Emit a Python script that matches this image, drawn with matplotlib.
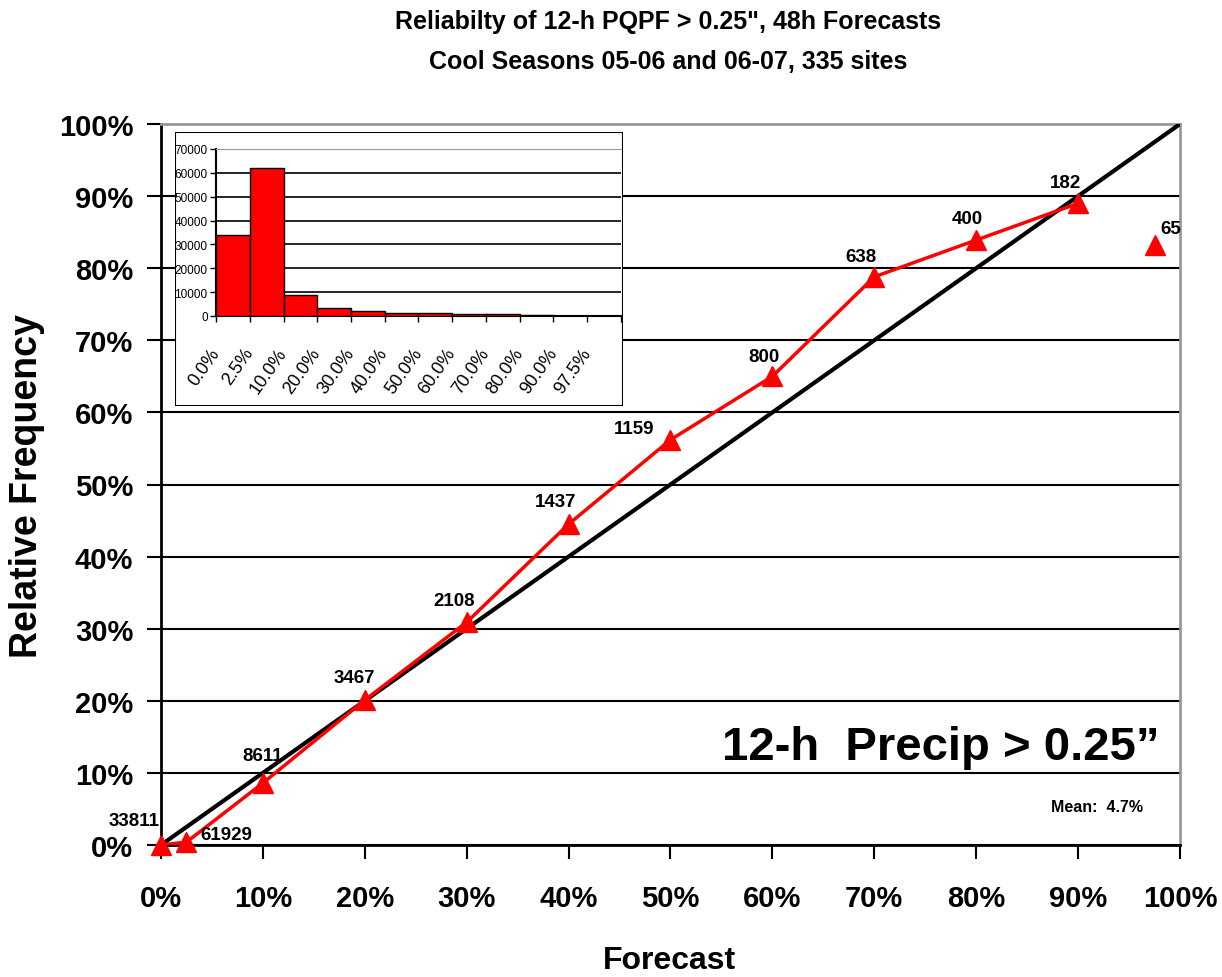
import matplotlib
matplotlib.use("Agg")
import matplotlib.pyplot as plt
from matplotlib.patches import Rectangle
from matplotlib.ticker import FuncFormatter

plt.rcParams['font.family'] = ['Liberation Sans Narrow', 'Liberation Sans', 'DejaVu Sans']

# forecast probability bins (%) and observed relative frequency (%)
forecast = [0, 2.5, 10, 20, 30, 40, 50, 60, 70, 80, 90, 97.5]
observed = [0.0, 0.4, 8.6, 20.1, 30.9, 44.5, 56.2, 65.0, 78.8, 83.9, 89.0, 83.2]
counts = [33811, 61929, 8611, 3467, 2108, 1437, 1159, 800, 638, 400, 182, 65]
hist_labels = ['0.0%', '2.5%', '10.0%', '20.0%', '30.0%', '40.0%', '50.0%',
               '60.0%', '70.0%', '80.0%', '90.0%', '97.5%']

# label offsets in pixels (dx, dy) for the sample counts
offsets = [(-27, 24), (40, 8), (0, 27), (-10, 23), (-13, 22), (-13, 23), (-36, 11),
           (-8, 20), (-13, 20), (-9, 22), (-13, 21), (16, 17)]

fig = plt.figure(figsize=(12.22, 9.78), dpi=100)
ax = fig.add_axes([161/1222, 1-846/978, (1180-161)/1222, (846-125)/978])

ax.set_xlim(0, 100)
ax.set_ylim(0, 100)
ax.set_xticks(range(0, 101, 10))
ax.set_yticks(range(0, 101, 10))
pct = FuncFormatter(lambda v, p: '%d%%' % v)
ax.xaxis.set_major_formatter(pct)
ax.yaxis.set_major_formatter(pct)
ax.tick_params(axis='both', direction='out', length=10, width=1.5, labelsize=21)
ax.tick_params(axis='x', pad=18)
ax.tick_params(axis='y', pad=10)
for lab in ax.get_xticklabels() + ax.get_yticklabels():
    lab.set_fontweight('bold')
ax.yaxis.grid(True, color='black', lw=1.5)
ax.set_axisbelow(True)
ax.spines['left'].set_linewidth(2)
ax.spines['bottom'].set_linewidth(2)
ax.spines['top'].set_color('#999999')
ax.spines['right'].set_color('#999999')
ax.spines['top'].set_linewidth(2)
ax.spines['right'].set_linewidth(2)

# perfect reliability line
ax.plot([0, 100], [0, 100], color='black', lw=3, zorder=3)

# reliability curve (last point not connected)
ax.plot(forecast[:-1], observed[:-1], color='red', lw=2.5, zorder=4)
ax.plot(forecast, observed, ls='none', marker='^', color='red', markersize=14,
        clip_on=False, zorder=5)

for x, y, n, off in zip(forecast, observed, counts, offsets):
    ax.annotate(str(n), (x, y), xytext=off, textcoords='offset pixels',
                ha='center', va='center', fontsize=13.5, fontweight='bold',
                annotation_clip=False, zorder=6)

ax.text(98.0, 13.6, '12-h  Precip > 0.25\u201d', ha='right', va='center',
        fontsize=34, fontweight='bold', family=['Liberation Sans', 'DejaVu Sans'])
ax.text(96.4, 5.3, 'Mean:  4.7%', ha='right', va='center', fontsize=11.5,
        fontweight='bold')

fig.text(668/1222, 1-22/978, 'Reliabilty of 12-h PQPF > 0.25", 48h Forecasts',
         ha='center', va='center', fontsize=18, fontweight='bold')
fig.text(668/1222, 1-62/978, 'Cool Seasons 05-06 and 06-07, 335 sites',
         ha='center', va='center', fontsize=18, fontweight='bold')
fig.text(27/1222, 1-486/978, 'Relative Frequency', rotation=90, ha='center',
         va='center', fontsize=27, fontweight='bold',
         family=['Liberation Sans', 'DejaVu Sans'])
fig.text(669/1222, 1-961/978, 'Forecast', ha='center', va='center',
         fontsize=23, fontweight='bold')

# inset frame
frame = fig.add_axes([175/1222, 1-407/978, (623-175)/1222, (407-133)/978])
frame.axis('off')
frame.add_patch(Rectangle((0, 0), 1, 1, transform=frame.transAxes,
                          facecolor='white', edgecolor='black', lw=1.5))

# inset histogram
ins = fig.add_axes([216/1222, 1-317/978, (621-216)/1222, (317-150)/978])
ins.bar([i + 0.5 for i in range(len(counts))], counts, width=1.0,
        color='red', edgecolor='black', lw=1, zorder=3)
ins.set_xlim(0, len(counts))
ins.set_ylim(0, 70000)
ins.set_yticks(range(0, 70001, 10000))
ins.set_xticks(range(len(counts) + 1))
ins.set_xticklabels(hist_labels + [''], rotation=55, ha='right', va='center',
                    rotation_mode='anchor', fontsize=13,
                    family=['Liberation Sans', 'DejaVu Sans'])
for lab in ins.get_yticklabels():
    lab.set_fontsize(8.5)
    lab.set_family(['Liberation Sans', 'DejaVu Sans'])
ins.tick_params(axis='both', direction='out', length=4, width=1)
ins.tick_params(axis='x', pad=20)
ins.tick_params(axis='y', pad=2)
ins.yaxis.grid(True, color='black', lw=1.2)
ins.set_axisbelow(True)
ins.spines['right'].set_visible(False)
ins.spines['top'].set_color('#999999')
ins.spines['left'].set_linewidth(1.5)
ins.spines['bottom'].set_linewidth(1.5)

fig.savefig('out.png', dpi=100)
